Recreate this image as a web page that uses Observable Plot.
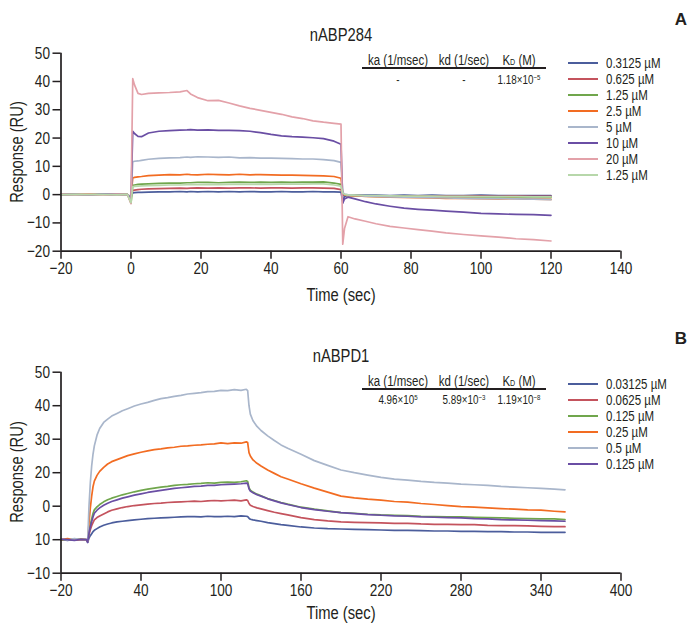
<!DOCTYPE html>
<html><head><meta charset="utf-8">
<script src="https://cdn.jsdelivr.net/npm/d3@7"></script>
<script src="https://cdn.jsdelivr.net/npm/@observablehq/plot@0.6"></script>
<style>
body{margin:0;background:#fff;}
#root{position:relative;width:690px;height:631px;overflow:hidden;font-family:'Liberation Sans',Arial,sans-serif;color:#231f20;}
.abs{position:absolute;white-space:nowrap;line-height:1;}
.c{transform:translate(-50%,-50%) scaleX(0.82);}
.panel{position:absolute;left:0;}
.leg{position:absolute;left:568px;height:16px;display:flex;align-items:center;font-size:14px;line-height:1;white-space:nowrap;}
.leg .t{display:inline-block;transform:scaleX(0.82);transform-origin:left center;}
.sw{display:inline-block;width:30px;height:2px;margin-right:8px;}
.kd{font-size:0.62em;}
sup{font-size:0.62em;vertical-align:0.5em;line-height:0;}
.rule{position:absolute;height:2px;background:#231f20;}
</style></head><body><div id="root"></div>
<script>
const FONT = "'Liberation Sans',Arial,sans-serif";

// ---------- Panel A: nABP284 ----------
const titleA = "nABP284";
const timesA = [-20,-16,-12,-8,-4,-1, 0,
  0.5,1,2,3,5,8,11,14,16,17,19,22,25,28,31,34,37,40,43,46,49,52,55,58,60,
  60.5,61,62,64,67,70,74,78,82,86,90,95,100,105,110,115,120];
const labelsA = ["0.3125 µM","0.625 µM","1.25 µM","2.5 µM","5 µM","10 µM","20 µM","1.25 µM"];
const colorsA = ["#4b5d9c","#c4535d","#70a64c","#f26c22","#a9b6cb","#6a4ea4","#e3a1a9","#b7d7aa"];
const a_03125 = [0.1,-0.1,0.0,0.1,-0.1,0.0, -0.8,
  0.6,0.7,0.8,0.8,0.9,1.0,1.0,1.1,1.0,1.1,1.0,1.1,1.0,1.1,1.0,1.1,1.0,1.0,1.1,1.0,1.0,1.1,1.0,1.0,0.9,
  -2.5,-0.6,-0.3,-0.2,-0.2,-0.2,-0.3,-0.2,-0.3,-0.2,-0.3,-0.3,-0.2,-0.3,-0.3,-0.3,-0.3];
const a_0625 = [0.0,0.1,-0.1,0.0,0.1,0.0, -1.0,
  1.5,1.6,1.8,1.9,2.0,2.1,2.2,2.3,2.2,2.3,2.4,2.3,2.4,2.3,2.4,2.4,2.3,2.4,2.4,2.3,2.4,2.4,2.3,2.2,1.8,
  0.0,-0.2,-0.3,-0.3,-0.4,-0.4,-0.4,-0.5,-0.4,-0.5,-0.5,-0.5,-0.5,-0.6,-0.5,-0.6,-0.6];
const a_125 = [0.1,0.0,0.1,-0.1,0.0,0.1, -3.0,
  3.3,3.4,3.6,3.7,3.8,4.0,4.1,4.1,4.2,4.2,4.3,4.3,4.2,4.3,4.4,4.3,4.4,4.3,4.4,4.3,4.4,4.4,4.5,4.1,3.6,
  0.3,-0.1,-0.3,-0.4,-0.5,-0.6,-0.6,-0.7,-0.7,-0.8,-0.8,-0.8,-0.9,-0.9,-0.9,-1.0,-1.0];
const a_25 = [0.0,0.0,0.1,-0.1,0.0,0.0, -0.8,
  5.9,6.1,6.3,6.4,6.7,6.9,7.1,7.0,7.2,7.1,7.0,7.2,7.1,7.0,7.2,7.0,7.1,7.0,6.9,6.9,6.8,6.7,6.6,6.4,5.8,
  0.4,-0.1,-0.3,-0.4,-0.6,-0.7,-0.9,-1.0,-1.1,-1.2,-1.3,-1.3,-1.4,-1.5,-1.4,-1.6,-1.7];
const a_5 = [0.0,0.1,-0.1,0.0,0.1,0.0, -1.0,
  11.6,11.8,11.9,12.1,12.5,12.8,13.0,13.1,13.3,13.2,13.4,13.3,13.2,13.3,13.0,13.1,12.9,12.9,12.8,12.7,12.6,12.6,12.4,12.0,11.4,
  0.8,0.2,-0.1,-0.3,-0.5,-0.6,-0.8,-0.9,-1.0,-1.1,-1.2,-1.3,-1.4,-1.4,-1.5,-1.6,-1.8];
const a_10 = [0.1,0.0,-0.2,0.1,0.0,0.0, -1.5,
  22.4,21.6,20.6,20.5,21.8,22.4,22.6,22.8,22.9,23.0,22.8,22.9,22.7,22.7,22.6,22.4,21.9,21.3,20.8,20.5,20.3,20.1,19.8,18.9,17.8,
  -3.0,-1.5,-0.9,-1.5,-2.5,-3.3,-4.1,-4.8,-5.2,-5.5,-5.8,-6.2,-6.6,-6.8,-7.0,-7.1,-7.3];
const a_20 = [0.2,-0.1,0.1,-0.2,0.1,0.0, -3.2,
  41.0,38.8,35.8,35.4,35.8,36.0,36.1,36.3,36.8,35.6,34.3,33.2,33.3,32.4,31.4,30.5,29.8,29.1,28.4,27.5,26.9,26.1,25.6,25.2,24.9,
  -17.5,-12.0,-7.8,-8.6,-9.4,-10.3,-11.2,-11.8,-12.4,-12.9,-13.5,-14.1,-14.6,-15.0,-15.6,-15.9,-16.4];
const a_125b = [0.0,0.1,0.0,0.1,-0.1,0.1, -2.8,
  2.8,2.9,3.0,3.1,3.2,3.3,3.4,3.4,3.5,3.5,3.5,3.6,3.5,3.6,3.6,3.6,3.7,3.6,3.7,3.7,3.7,3.8,3.8,3.4,3.0,
  0.6,0.1,-0.1,-0.2,-0.3,-0.3,-0.4,-0.5,-0.5,-0.5,-0.6,-0.6,-0.7,-0.7,-0.7,-0.8,-0.8];
const seriesA = [a_03125,a_0625,a_125,a_25,a_5,a_10,a_20,a_125b];
const xTicksA = [-20,0,20,40,60,80,100,120,140];
const xTickLabelsA = ["−20","0","20","40","60","80","100","120","140"];
const yTicksA = [-20,-10,0,10,20,30,40,50];
const yTickLabelsA = ["−20","−10","0","10","20","30","40","50"];
const tableHeadA = ["ka (1/msec)","kd (1/sec)","KD (M)"];
const tableValsA = ["-","-","1.18×10^−5"];

// ---------- Panel B: nABPD1 ----------
const titleB = "nABPD1";
const timesB = [-20,-15,-10,-5,-1, 0,
  1,2,3,4,5,7,9,12,15,18,22,26,30,35,40,45,50,55,60,65,70,75,80,85,90,95,100,105,110,115,119,120,
  121,122,124,127,130,135,140,145,150,160,170,180,190,200,210,220,230,240,250,260,270,280,290,300,310,320,330,340,350,358];
const labelsB = ["0.03125 µM","0.0625 µM","0.125 µM","0.25 µM","0.5 µM","0.125 µM"];
const colorsB = ["#4b5d9c","#c4535d","#70a64c","#f26c22","#a9b6cb","#6a4ea4"];
const b_003125 = [0.1,-0.2,0.2,0.0,-0.1, -0.8,
  0.5,1.2,1.8,2.4,2.8,3.3,3.8,4.3,4.7,5.0,5.3,5.5,5.7,5.9,6.1,6.3,6.4,6.5,6.6,6.7,6.8,6.9,6.9,6.8,7.0,6.9,6.9,7.0,6.9,7.1,7.0,6.9,
  6.4,6.1,5.9,5.7,5.5,5.1,4.8,4.5,4.3,3.8,3.5,3.3,3.2,3.1,3.0,2.9,2.8,2.8,2.7,2.6,2.6,2.5,2.5,2.4,2.4,2.3,2.3,2.2,2.2,2.2];
const b_00625 = [0.0,0.2,-0.1,0.1,0.0, -0.5,
  1.5,3.0,4.2,5.1,5.9,6.6,7.1,7.7,8.3,8.8,9.2,9.6,9.9,10.2,10.4,10.6,10.8,10.9,11.1,11.2,11.3,11.4,11.5,11.4,11.6,11.7,11.6,11.7,11.8,11.6,11.9,11.7,
  10.8,10.3,9.9,9.5,9.2,8.7,8.2,7.8,7.4,6.6,6.0,5.6,5.3,5.2,5.1,5.0,4.9,4.9,4.7,4.6,4.6,4.5,4.5,4.3,4.2,4.2,4.1,4.0,3.9,3.9];
const b_0125 = [-0.1,0.1,0.0,0.2,0.0, -0.5,
  2.5,4.5,6.2,7.8,8.9,9.8,10.5,11.3,11.9,12.4,12.9,13.4,13.8,14.3,14.7,15.1,15.4,15.7,15.9,16.2,16.4,16.5,16.7,16.8,17.0,16.9,17.1,17.2,17.1,17.3,17.6,17.4,
  15.5,14.8,14.2,13.6,13.1,12.3,11.7,11.1,10.6,9.7,9.1,8.6,8.1,7.9,7.6,7.4,7.3,7.2,7.0,6.9,6.8,6.8,6.7,6.6,6.5,6.4,6.3,6.2,6.2,6.0];
const b_025 = [0.0,0.3,-0.1,0.1,0.0, -0.5,
  5.0,9.5,13.0,15.8,17.5,19.2,20.4,21.6,22.6,23.3,23.9,24.5,25.1,25.6,26.1,26.5,26.9,27.1,27.4,27.6,27.9,28.0,28.2,28.3,28.5,28.6,28.9,28.7,28.9,28.8,29.2,29.0,
  26.0,25.0,23.8,22.8,22.0,20.8,19.8,18.8,18.1,16.7,15.4,14.2,13.0,12.5,12.1,11.8,11.4,11.2,10.8,10.5,10.2,9.9,9.7,9.5,9.3,9.1,8.9,8.8,8.5,8.3];
const b_05 = [0.2,-0.1,0.3,0.0,0.1, -0.5,
  10.0,17.0,22.0,25.5,28.0,31.2,33.2,35.0,36.0,36.9,37.7,38.5,39.1,39.9,40.5,41.0,41.6,42.1,42.4,42.8,43.1,43.5,43.7,43.9,44.2,44.3,44.6,44.5,44.8,44.6,44.9,44.5,
  40.0,37.5,35.5,33.8,32.6,31.0,29.6,28.3,27.3,25.5,23.6,22.2,20.8,20.0,19.3,18.6,18.1,17.8,17.4,17.1,16.9,16.6,16.4,16.2,15.9,15.7,15.5,15.3,15.1,14.9];
const b_0125b = [0.1,0.0,-0.2,0.1,0.0, -0.8,
  2.0,3.8,5.4,6.8,7.9,8.8,9.5,10.3,10.9,11.4,11.9,12.4,12.8,13.3,13.7,14.1,14.4,14.7,15.0,15.3,15.5,15.7,15.9,16.0,16.2,16.2,16.4,16.5,16.6,16.7,16.9,16.8,
  15.2,14.5,14.0,13.4,13.0,12.2,11.6,11.0,10.5,9.6,9.0,8.5,8.1,7.8,7.5,7.3,7.1,7.0,6.8,6.7,6.6,6.5,6.3,6.2,6.0,5.9,5.8,5.7,5.6,5.5];
const seriesB = [b_003125,b_00625,b_0125,b_025,b_05,b_0125b];
const xTicksB = [-20,40,100,160,220,280,340,400];
const xTickLabelsB = ["−20","40","100","160","220","280","340","400"];
const yTicksB = [-10,0,10,20,30,40,50];
const yTickLabelsB = ["−10","10","0","20","30","40","50"];
const tableHeadB = ["ka (1/msec)","kd (1/sec)","KD (M)"];
const tableValsB = ["4.96×10^5","5.89×10^−3","1.19×10^−8"];

// ---------- build ----------
function tidy(times, series, colors){
  return series.flatMap((vals,i)=>times.map((t,j)=>({t, v:vals[j], k:"s"+i, c:colors[i]})));
}
const AX = "#231f20";
// condense tick-label glyphs (the reference uses a condensed face); done after insertion so lengths are measurable
function condense(svg, k){
  svg.querySelectorAll('[aria-label="x-axis tick label"] text, [aria-label="y-axis tick label"] text').forEach(t=>{
    const L = t.getComputedTextLength();
    if (L > 0) { t.setAttribute("textLength", (L*k).toFixed(2)); t.setAttribute("lengthAdjust","spacingAndGlyphs"); }
  });
}
function panel(data, opts){
  return Plot.plot({
    width:690, height:opts.height,
    marginLeft:60.5, marginRight:69.5, marginTop:opts.mt, marginBottom:opts.mb,
    style:{fontFamily:FONT, fontSize:"17px", color:AX, background:"transparent", overflow:"visible"},
    x:{domain:opts.xd}, y:{domain:opts.yd},
    marks:[
      Plot.lineY(data,{x:"t", y:"v", z:"k", stroke:"c", strokeWidth:1.7}),
      Plot.ruleX([opts.xd[0]],{stroke:AX, strokeWidth:1.7}),
      Plot.ruleY([opts.yd[0]],{stroke:AX, strokeWidth:1.7}),
      Plot.axisX({ticks:opts.xt, tickFormat:d=>opts.xl[opts.xt.indexOf(d)], tickSize:8, tickPadding:3, label:null, fontSize:17, strokeWidth:1.5}),
      Plot.axisY({ticks:opts.yt, tickFormat:d=>opts.yl[opts.yt.indexOf(d)], tickSize:8, tickPadding:3, label:null, fontSize:17, strokeWidth:1.5})
    ]
  });
}
const root = document.getElementById("root");
function add(html, css, cls){ const d=document.createElement("div"); d.className="abs "+(cls||""); d.innerHTML=html; Object.assign(d.style, css); root.appendChild(d); return d; }
function fmt(s){
  if (s.includes("^")) { const [a,b]=s.split("^"); return a+"<sup>"+b+"</sup>"; }
  return s;
}
function head(s){ return s.replace("KD","K<span class='kd'>D</span>"); }

const pA = panel(tidy(timesA, seriesA, colorsA), {height:300, mt:52.7, mb:49.3, xd:[-20,140], yd:[-20,50], xt:xTicksA, xl:xTickLabelsA, yt:yTicksA, yl:yTickLabelsA});
const pB = panel(tidy(timesB, seriesB, colorsB), {height:331, mt:71.7, mb:58.3, xd:[-20,400], yd:[-10,50], xt:xTicksB, xl:xTickLabelsB, yt:yTicksB, yl:yTickLabelsB});
const wA = document.createElement("div"); wA.className="panel"; wA.style.top="0px"; wA.appendChild(pA); root.appendChild(wA);
const wB = document.createElement("div"); wB.className="panel"; wB.style.top="300px"; wB.appendChild(pB); root.appendChild(wB);
condense(pA, 0.8); condense(pB, 0.8);

function decorate(off, title, letter, head3, vals3, labels, colors, o){
  add(title, {left:"341px", top:(off+o.titleY)+"px", fontSize:"18px"}, "c");
  add(letter, {left:"681px", top:(off+o.letterY)+"px", fontSize:"17px", fontWeight:"bold", transform:"translate(-50%,-50%)"});
  add("Time (sec)", {left:"341px", top:(off+o.xlabY)+"px", fontSize:"18px"}, "c");
  add("Response (RU)", {left:"17px", top:(off+o.ylabY)+"px", fontSize:"18px", transform:"translate(-50%,-50%) rotate(-90deg) scaleX(0.82)"});
  const cols=[397.5,464,519];
  head3.forEach((h,i)=>add(head(h), {left:cols[i]+"px", top:(off+o.headY)+"px", fontSize:"14px"}, "c"));
  const r=document.createElement("div"); r.className="rule"; Object.assign(r.style,{left:"362px", width:"184px", top:(off+o.ruleY-1)+"px"}); root.appendChild(r);
  vals3.forEach((v,i)=>add(fmt(v), {left:cols[i]+"px", top:(off+o.valY)+"px", fontSize:"12px"}, "c"));
  labels.forEach((l,i)=>{
    const d=document.createElement("div"); d.className="leg";
    d.style.top=(off+o.legY+16*i-8)+"px";
    d.innerHTML=`<span class="sw" style="background:${colors[i]}"></span><span class="t">${l}</span>`;
    root.appendChild(d);
  });
}
decorate(0, titleA, "A", tableHeadA, tableValsA, labelsA, colorsA,
  {titleY:35, letterY:19, xlabY:295, ylabY:151.7, headY:60, ruleY:68.3, valY:80, legY:63});
decorate(300, titleB, "B", tableHeadB, tableValsB, labelsB, colorsB,
  {titleY:56, letterY:38, xlabY:313, ylabY:172.2, headY:81, ruleY:89, valY:100, legY:84});
</script>
</body></html>
